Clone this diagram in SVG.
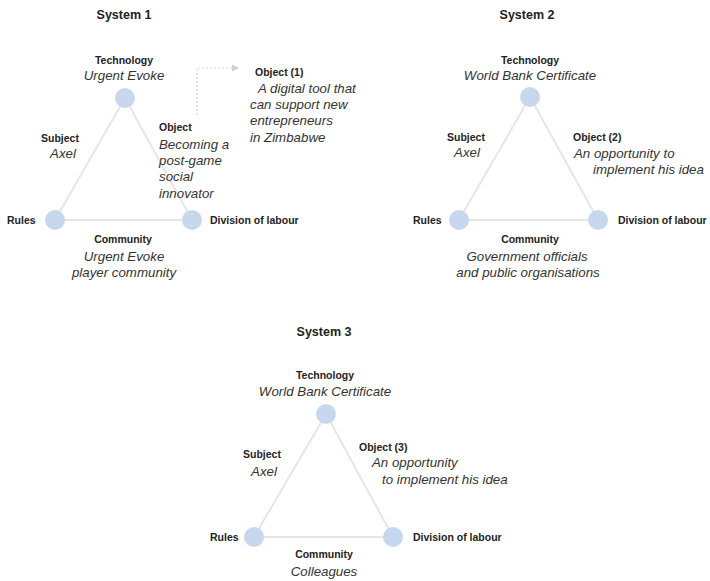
<svg xmlns="http://www.w3.org/2000/svg" width="710" height="581" viewBox="0 0 710 581">
<style>
.bg{fill:#fff}
.edge{stroke:#e6e6e6;stroke-width:2;fill:none}
.dot{stroke:#d8d8d8;stroke-width:1.2;stroke-dasharray:2 2;fill:none}
.node{fill:#c7d8ee}
.t{font-family:"Liberation Sans",Arial,sans-serif;font-size:12.5px;font-weight:bold;fill:#222;text-anchor:middle}
.b{font-family:"Liberation Sans",Arial,sans-serif;font-size:10.5px;font-weight:bold;fill:#222}
.i{font-family:"Liberation Sans",Arial,sans-serif;font-size:13.3px;font-style:italic;fill:#333}
.m{text-anchor:middle}
</style>
<defs>
<marker id="ah" viewBox="0 0 6 6" refX="5" refY="3" markerWidth="6" markerHeight="6" orient="auto">
<path d="M0,0 L6,3 L0,6 z" fill="#d0d0d0"/>
</marker>
</defs>
<rect class="bg" x="0" y="0" width="710" height="581"/>

<g id="connectors">
<line class="edge" x1="125" y1="98" x2="55" y2="220"/>
<line class="edge" x1="125" y1="98" x2="192" y2="220"/>
<line class="edge" x1="55" y1="220" x2="192" y2="220"/>
<polyline class="dot" points="197,115 197,68 238,68" marker-end="url(#ah)"/>
<line class="edge" x1="530" y1="97" x2="459" y2="220"/>
<line class="edge" x1="530" y1="97" x2="598" y2="220"/>
<line class="edge" x1="459" y1="220" x2="598" y2="220"/>
<line class="edge" x1="326" y1="414" x2="254" y2="537"/>
<line class="edge" x1="326" y1="414" x2="393" y2="537"/>
<line class="edge" x1="254" y1="537" x2="393" y2="537"/>
</g>

<g id="system1">
<text class="t" x="124" y="19">System 1</text>
<g id="s1-technology">
<circle class="node" cx="125" cy="98" r="10"/>
<text class="b m" x="124" y="64">Technology</text>
<text class="i m" x="124" y="80">Urgent Evoke</text>
</g>
<g id="s1-rules">
<circle class="node" cx="55" cy="220" r="10"/>
<text class="b" x="7" y="224">Rules</text>
</g>
<g id="s1-division">
<circle class="node" cx="192" cy="220" r="10"/>
<text class="b" x="210" y="224">Division of labour</text>
</g>
<g id="s1-subject">
<text class="b m" x="60" y="142">Subject</text>
<text class="i m" x="63" y="158">Axel</text>
</g>
<g id="s1-object">
<text class="b" x="159" y="131">Object</text>
<text class="i" x="159" y="149">Becoming a</text>
<text class="i" x="159" y="165">post-game</text>
<text class="i" x="159" y="181">social</text>
<text class="i" x="159" y="198">innovator</text>
</g>
<g id="s1-object1">
<text class="b" x="255" y="76">Object (1)</text>
<text class="i" x="258" y="93">A digital tool that</text>
<text class="i" x="250" y="109">can support new</text>
<text class="i" x="250" y="125">entrepreneurs</text>
<text class="i" x="250" y="142">in Zimbabwe</text>
</g>
<g id="s1-community">
<text class="b m" x="123" y="243">Community</text>
<text class="i m" x="124" y="261">Urgent Evoke</text>
<text class="i m" x="124" y="277">player community</text>
</g>
</g>

<g id="system2">
<text class="t" x="527" y="19">System 2</text>
<g id="s2-technology">
<circle class="node" cx="530" cy="97" r="10"/>
<text class="b m" x="530" y="64">Technology</text>
<text class="i m" x="530" y="80">World Bank Certificate</text>
</g>
<g id="s2-rules">
<circle class="node" cx="459" cy="220" r="10"/>
<text class="b" x="413" y="224">Rules</text>
</g>
<g id="s2-division">
<circle class="node" cx="598" cy="220" r="10"/>
<text class="b" x="618" y="224">Division of labour</text>
</g>
<g id="s2-subject">
<text class="b m" x="466" y="141">Subject</text>
<text class="i m" x="467" y="157">Axel</text>
</g>
<g id="s2-object">
<text class="b" x="573" y="141">Object (2)</text>
<text class="i" x="574" y="158">An opportunity to</text>
<text class="i" x="593" y="174">implement his idea</text>
</g>
<g id="s2-community">
<text class="b m" x="530" y="243">Community</text>
<text class="i m" x="527" y="261">Government officials</text>
<text class="i m" x="528" y="277">and public organisations</text>
</g>
</g>

<g id="system3">
<text class="t" x="324" y="336">System 3</text>
<g id="s3-technology">
<circle class="node" cx="326" cy="414" r="10"/>
<text class="b m" x="325" y="379">Technology</text>
<text class="i m" x="325" y="396">World Bank Certificate</text>
</g>
<g id="s3-rules">
<circle class="node" cx="254" cy="537" r="10"/>
<text class="b" x="210" y="541">Rules</text>
</g>
<g id="s3-division">
<circle class="node" cx="393" cy="537" r="10"/>
<text class="b" x="413" y="541">Division of labour</text>
</g>
<g id="s3-subject">
<text class="b m" x="262" y="458">Subject</text>
<text class="i m" x="264" y="476">Axel</text>
</g>
<g id="s3-object">
<text class="b" x="359" y="451">Object (3)</text>
<text class="i" x="372" y="467">An opportunity</text>
<text class="i" x="382" y="484">to implement his idea</text>
</g>
<g id="s3-community">
<text class="b m" x="324" y="558">Community</text>
<text class="i m" x="324" y="576">Colleagues</text>
</g>
</g>
</svg>
